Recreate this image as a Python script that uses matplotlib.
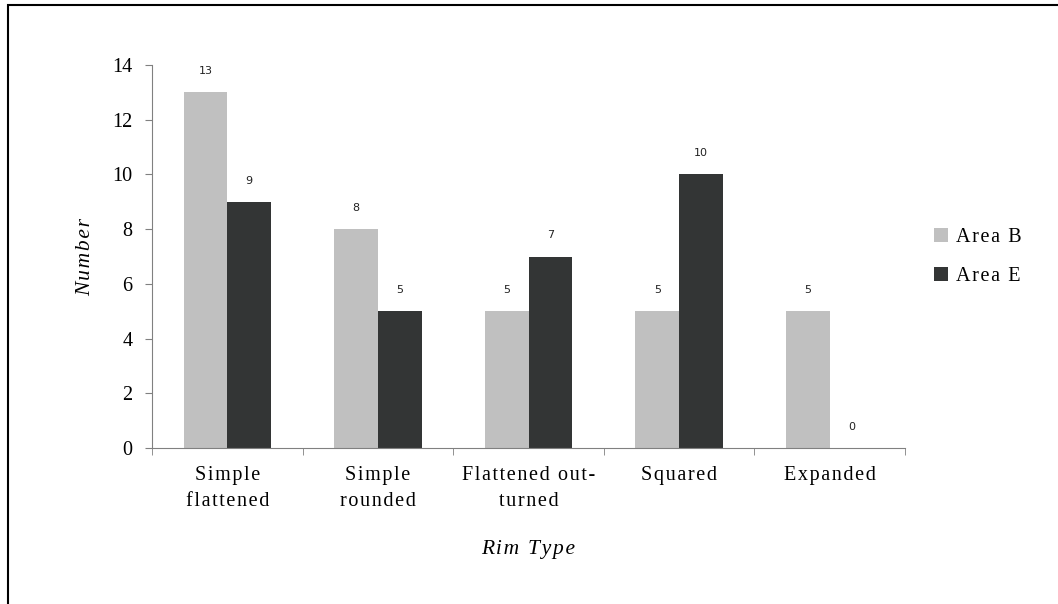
import numpy as np
import matplotlib
matplotlib.use("Agg")
import matplotlib.pyplot as plt
from matplotlib.patches import Rectangle

# data
rim_types = ["Simple\nflattened", "Simple\nrounded", "Flattened out-\nturned",
             "Squared", "Expanded"]
area_b = [13, 8, 5, 5, 5]
area_e = [9, 5, 7, 10, 0]
series_names = ["Area B", "Area E"]

LIGHT = "#c0c0c0"
DARK = "#333535"
AXIS = "#808080"

plt.rcParams["font.family"] = ["Liberation Serif", "DejaVu Serif"]


def spaced(s, gap="\u200a"):
    # the original uses wide letter spacing
    return "\n".join(gap.join(line) for line in s.split("\n"))


W, H = 1058, 604
fig = plt.figure(figsize=(W / 100, H / 100), dpi=100)

# outer frame (only left/top edges visible in the reference)
fig.patches.append(Rectangle((8 / W, -0.05), 1.2, (H - 5) / H + 0.05,
                             transform=fig.transFigure, fill=False,
                             ec="black", lw=1.5))

ax = fig.add_axes([152 / W, 1 - 448 / H, (905 - 152) / W, (448 - 65) / H])

x = np.arange(len(rim_types))
bw = 0.29
b1 = ax.bar(x - bw / 2, area_b, bw, color=LIGHT, label=spaced(series_names[0]))
b2 = ax.bar(x + bw / 2, area_e, bw, color=DARK, label=spaced(series_names[1]))

for bars, vals in ((b1, area_b), (b2, area_e)):
    for r, v in zip(bars, vals):
        ax.annotate(str(v), (r.get_x() + r.get_width() / 2, v),
                    xytext=(0, 21), textcoords="offset pixels",
                    ha="center", va="center", fontsize=8,
                    family="DejaVu Sans", color="#222222")

ax.set_xlim(-0.5, len(rim_types) - 0.5)
ax.set_ylim(0, 14)
ax.set_yticks(range(0, 15, 2))
ax.set_xticks(x)
ax.set_xticklabels([spaced(t) for t in rim_types], fontsize=14.5,
                   linespacing=1.5)
ax.set_xticks(np.arange(-0.5, len(rim_types)), minor=True)
ax.tick_params(axis="x", which="major", length=0, pad=13)
ax.tick_params(axis="x", which="minor", length=5, color=AXIS)
ax.tick_params(axis="y", length=5, color=AXIS, labelsize=14.5, pad=9)

for s in ("top", "right"):
    ax.spines[s].set_visible(False)
ax.spines["left"].set_color(AXIS)
ax.spines["bottom"].set_color(AXIS)

ax.set_ylabel(spaced("Number"), fontsize=15.5, style="italic", labelpad=12)
ax.set_xlabel(spaced("Rim Type"), fontsize=15.5, style="italic", labelpad=21)

ax.legend(loc="center left", bbox_to_anchor=(916 / W, 1 - 257 / H),
          bbox_transform=fig.transFigure, frameon=False, fontsize=14.5,
          handlelength=0.7, handleheight=0.7, handletextpad=0.4,
          labelspacing=0.95)

fig.savefig("out.png", dpi=100)
